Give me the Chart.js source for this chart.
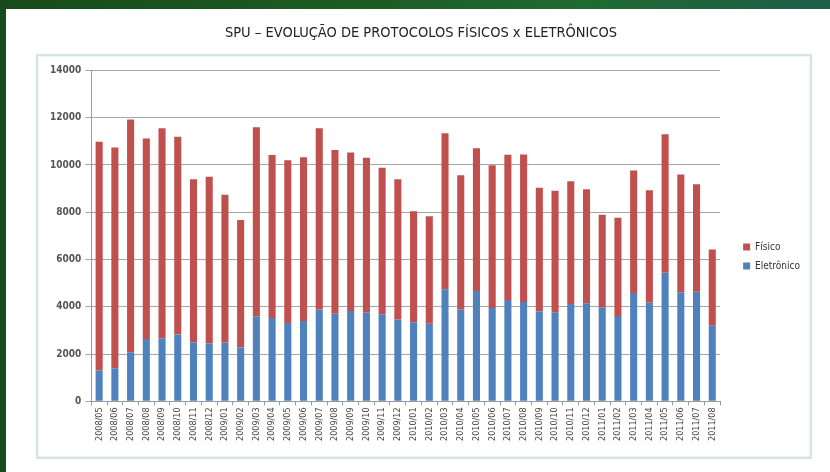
<!DOCTYPE html>
<html>
<head>
<meta charset="utf-8">
<script src="https://cdn.jsdelivr.net/npm/chart.js@4.4.1/dist/chart.umd.min.js"></script>
<style>
html,body{margin:0;padding:0;}
body{width:830px;height:472px;overflow:hidden;position:relative;
 background:linear-gradient(90deg,#174a1c 0%,#1d5a22 40%,#1f6a30 70%,#1d5f4a 100%);}
#panel{position:absolute;left:6px;top:9px;right:0;bottom:0;background:#fff;}
#frame{position:absolute;left:36px;top:54px;width:772px;height:401px;border:2px solid #d3e3e6;box-shadow:inset 0 0 0 1px #eef5f6;}
#c{position:absolute;left:0;top:0;}
</style>
</head>
<body>
<div id="panel"></div>
<div id="frame"></div>
<canvas id="c" width="830" height="472"></canvas>
<script>
const categories = ["2008/05","2008/06","2008/07","2008/08","2008/09","2008/10","2008/11","2008/12",
"2009/01","2009/02","2009/03","2009/04","2009/05","2009/06","2009/07","2009/08","2009/09","2009/10","2009/11","2009/12",
"2010/01","2010/02","2010/03","2010/04","2010/05","2010/06","2010/07","2010/08","2010/09","2010/10","2010/11","2010/12",
"2011/01","2011/02","2011/03","2011/04","2011/05","2011/06","2011/07","2011/08"];
const eletronico = [1310,1400,2080,2640,2670,2830,2500,2450,2490,2280,3600,3530,3320,3400,3890,3710,3820,3770,3680,3460,
3350,3280,4740,3890,4670,3950,4290,4200,3800,3770,4120,4150,3980,3610,4580,4170,5440,4620,4640,3220];
const fisico = [9670,9340,9840,8480,8880,8360,6900,7050,6250,5390,8000,6890,6880,6930,7660,6920,6710,6530,6200,5940,
4690,4550,6600,5670,6040,6040,6140,6240,5240,5140,5190,4820,3910,4160,5190,4760,5860,4980,4540,3200];
const yTicks = [0,2000,4000,6000,8000,10000,12000,14000];
const titleText = "SPU – EVOLUÇÃO DE PROTOCOLOS FÍSICOS x ELETRÔNICOS";

const FONT = "'Liberation Sans Narrow','DejaVu Sans Condensed',sans-serif";
const legendShift = {
  id:'legendShift',
  afterLayout(chart){
    const l = chart.legend; if(!l) return;
    l.left += 14; l.right += 14; l.top += 11; l.bottom += 11;
  }
};
new Chart(document.getElementById('c'), {
  type: 'bar',
  data: {
    labels: categories,
    datasets: [
      {label:'Eletrônico', data:eletronico, backgroundColor:'#4f81bd', barPercentage:0.45, categoryPercentage:1},
      {label:'Físico', data:fisico, backgroundColor:'#c0504d', barPercentage:0.45, categoryPercentage:1}
    ]
  },
  plugins:[legendShift],
  options: {
    responsive:false, animation:false,
    layout:{padding:{left:46,right:34,top:6,bottom:29}},
    plugins:{
      title:{display:true,text:titleText,color:'#222',font:{family:FONT,size:14.5,weight:'normal'},padding:{top:19,bottom:28}},
      legend:{position:'right',reverse:true,align:'center',
        title:{display:true,text:' ',font:{family:FONT,size:10},padding:{top:0,bottom:30}},
        labels:{boxWidth:7,boxHeight:7,color:'#333',font:{family:FONT,size:10},padding:9}},
      tooltip:{enabled:false}
    },
    scales:{
      x:{stacked:true,
        grid:{offset:true,drawOnChartArea:false,drawTicks:true,tickLength:4,color:'#9a9a9a'},
        border:{color:'#9a9a9a'},
        ticks:{maxRotation:90,minRotation:90,autoSkip:false,color:'#444',font:{family:FONT,size:9},padding:2}},
      y:{stacked:true,min:0,max:14000,
        afterBuildTicks:(s)=>{s.ticks=yTicks.map(v=>({value:v}));},
        grid:{color:'#a6a6a6',drawTicks:true,tickLength:6},
        border:{color:'#9a9a9a'},
        ticks:{color:'#555',font:{family:FONT,size:10,weight:'bold'},padding:4,callback:(v)=>String(v)}}
    }
  }
});
</script>
</body>
</html>
